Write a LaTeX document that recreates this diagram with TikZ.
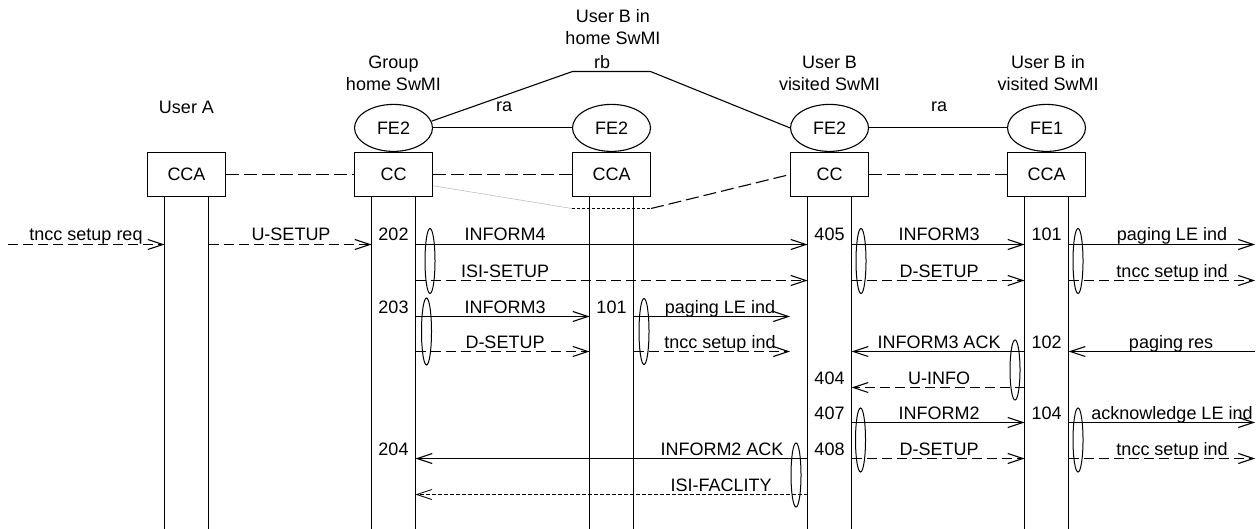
\documentclass[tikz,border=0pt]{standalone}
\usepackage{fontspec}
\setmainfont{Liberation Sans}
\usetikzlibrary{shapes.geometric, arrows.meta, positioning, calc}

\begin{document}
\begin{tikzpicture}[x=0.5pt, y=-0.5pt, line width=0.55pt,
    every node/.style={font=\fontsize{9}{11}\selectfont, inner sep=0pt},
    fbox/.style={draw, rectangle, minimum width=39pt, minimum height=22pt},
    fe/.style={draw, ellipse, minimum width=39pt, minimum height=23.5pt},
    msg/.style={-{Straight Barb[length=7.5pt, width=5pt]}},
    msgd/.style={msg, dash pattern=on 5pt off 2.5pt},
    msgf/.style={msg, line width=0.4pt, dash pattern=on 2pt off 1pt},
    link/.style={dash pattern=on 6.5pt off 2.5pt},
    bundle/.style={line width=0.5pt}]

    % 固定画布大小 (与参考图同比例)
    \useasboundingbox (0,0) rectangle (1256,529);

    % 1. 五个功能实体方框及其两条生命线
    \foreach \nm/\xc/\txt in {ccaA/186.5/CCA, ccG/393.5/CC, ccaH/611.5/CCA, ccV/829.5/CC, ccaW/1046.5/CCA}
    {
        \node[fbox] (\nm) at (\xc, 174.5) {\txt};
        \coordinate (\nm-l) at ($(\nm.south) + (-22, 0)$);
        \coordinate (\nm-r) at ($(\nm.south) + (22, 0)$);
        \draw (\nm-l) -- (\nm-l |- 0,529);
        \draw (\nm-r) -- (\nm-r |- 0,529);
    }

    % 2. 方框上方的 FE 椭圆
    \foreach \nm/\txt in {ccG/FE2, ccaH/FE2, ccV/FE2, ccaW/FE1}
        \node[fe, above=0pt of \nm] (fe-\nm) {\txt};

    % 3. 实体名称
    \node (tA) at (186.5, 107) {User A};
    \node[align=center] (tG) at (393.5, 73) {Group\\home SwMI};
    \node[align=center] (tH) at (613, 27) {User B in\\home SwMI};
    \node[align=center] (tV) at (829.5, 73) {User B\\visited SwMI};
    \node[align=center] (tW) at (1048, 73) {User B in\\visited SwMI};

    % 4. 参考点 ra / rb 连线
    \draw (fe-ccG) -- (fe-ccaH);
    \draw (fe-ccV) -- (fe-ccaW);
    \node (ra1) at (504, 107) {ra};
    \node (ra2) at (939, 107) {ra};
    \coordinate (rb1) at (572.5, 71.5);
    \coordinate (rb2) at (650.5, 71.5);
    \draw (fe-ccG.10) -- (rb1) -- (rb2) -- (fe-ccV.west);
    \node (rb) at (602, 62) {rb};

    % 5. 方框之间的虚线关联
    \draw[link] (ccaA) -- (ccG);
    \draw[link] (ccG) -- (ccaH);
    \draw[link] (ccV) -- (ccaW);
    \coordinate (cut1) at (ccaH.west |- 0,208.5);
    \coordinate (cut2) at (ccaH.east |- 0,208.5);
    \draw[gray!50, line width=0.3pt] ($(ccG.east)!0.5!(ccG.south east)$) -- (cut1);
    \draw[line width=0.4pt, dash pattern=on 1.5pt off 1pt] (cut1) -- (cut2);
    \draw[link] (cut2) -- (ccV.west);

    % 6. 消息箭头 (起点 / 终点 / 纵坐标 / 样式 / 标签横坐标 / 标签)
    \coordinate (inA) at (8, 0);
    \coordinate (outR) at (1255, 0);
    \coordinate (outH) at (790, 0);
    \foreach \a/\b/\y/\s/\lx/\txt [count=\k] in {
        inA/ccaA-l/244.5/msgd/86/tncc setup req,
        ccaA-r/ccG-l/244.5/msgd/291/U-SETUP,
        ccG-r/ccV-l/244.5/msg/505/INFORM4,
        ccG-r/ccV-l/280.5/msgd/505/ISI-SETUP,
        ccV-r/ccaW-l/244.5/msg/939/INFORM3,
        ccV-r/ccaW-l/280.5/msgd/939/D-SETUP,
        ccaW-r/outR/244.5/msg/1172/paging LE ind,
        ccaW-r/outR/280.5/msgd/1172/tncc setup ind,
        ccG-r/ccaH-l/316.5/msg/505/INFORM3,
        ccG-r/ccaH-l/351.5/msgd/505/D-SETUP,
        ccaH-r/outH/316.5/msg/720/paging LE ind,
        ccaH-r/outH/351.5/msgd/720/tncc setup ind,
        ccaW-l/ccV-r/351.5/msg/939/INFORM3 ACK,
        outR/ccaW-r/351.5/msg/1171/paging res,
        ccaW-l/ccV-r/387.5/msgd/939/U-INFO,
        ccV-r/ccaW-l/422.5/msg/939/INFORM2,
        ccV-r/ccaW-l/458.5/msgd/939/D-SETUP,
        ccaW-r/outR/422.5/msg/1172/acknowledge LE ind,
        ccaW-r/outR/458.5/msgd/1172/tncc setup ind,
        ccV-l/ccG-r/458.5/msg/722/INFORM2 ACK,
        ccV-l/ccG-r/494.5/msgf/721/ISI-FACLITY}
    {
        \draw[\s] (\a |- 0,\y) -- (\b |- 0,\y);
        \node[anchor=base] (lab\k) at (\lx, \y - 3.5) {\txt};
    }

    % 7. 动作编号
    \foreach \nm/\y/\num in {ccG/244.5/202, ccG/316.5/203, ccG/458.5/204, ccaH/316.5/101, ccV/244.5/405, ccV/387.5/404,
                             ccV/422.5/407, ccV/458.5/408, ccaW/244.5/101, ccaW/351.5/102, ccaW/422.5/104}
        \node[anchor=base] (n\num-\nm) at (\nm |- 0,\y - 3.5) {\num};

    % 8. 同时发出的消息用小椭圆括起
    \foreach \xc/\yc/\ry in {430/261/32.5, 426.5/331.5/33.5, 644/331.5/33, 861/261/32.5, 1078/261/32.5,
                             1015/370/30, 860.5/440/32, 1078/440/32, 796/475/32}
        \draw[bundle] (\xc, \yc) ellipse [x radius=5, y radius=\ry];

\end{tikzpicture}
\end{document}
